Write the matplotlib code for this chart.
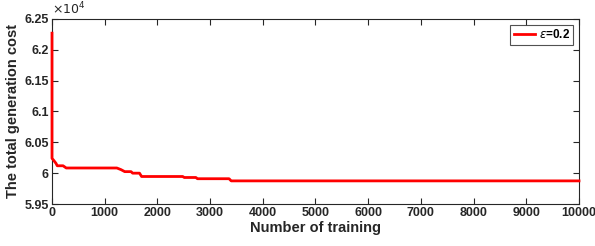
import matplotlib
matplotlib.use('Agg')
import matplotlib.pyplot as plt
from matplotlib.ticker import FuncFormatter, MultipleLocator

# Training curve (cost values in units of 1e4)
iters = [0, 0, 30, 75, 100, 210, 270, 1230, 1310, 1380, 1500, 1530, 1660, 1700,
         2480, 2510, 2730, 2760, 3360, 3400, 10000]
cost = [6.227, 6.024, 6.021, 6.016, 6.012, 6.012, 6.0084, 6.0084, 6.0057, 6.0025,
        6.0025, 6.0, 6.0, 5.9946, 5.9946, 5.993, 5.993, 5.991, 5.991, 5.9875, 5.9875]
cost = [c * 1e4 for c in cost]
series_label = r'$\epsilon$=0.2'

plt.rcParams['font.family'] = ['Liberation Sans', 'DejaVu Sans']

fig = plt.figure(figsize=(5.95, 2.46), dpi=100)
ax = fig.add_axes([0.0874, 0.1707, 0.8857, 0.7521])

ax.plot(iters, cost, color='red', linewidth=2, label=series_label,
        zorder=4, clip_on=False)

ax.set_xlim(0, 10000)
ax.set_ylim(5.95e4, 6.25e4)
ax.xaxis.set_major_locator(MultipleLocator(1000))
ax.yaxis.set_major_locator(MultipleLocator(0.05e4))
ax.yaxis.set_major_formatter(FuncFormatter(lambda v, p: '%g' % round(v / 1e4, 3)))

axis_col = '#262626'
for s in ax.spines.values():
    s.set_color(axis_col)
    s.set_linewidth(0.8)
ax.tick_params(direction='in', top=True, right=True, length=4, width=0.8,
               color=axis_col, labelsize=9, labelcolor=axis_col, pad=2.5)
for lbl in ax.get_xticklabels() + ax.get_yticklabels():
    lbl.set_fontweight('bold')

ax.text(0.0, 1.01, r'$\times10^4$', transform=ax.transAxes, fontsize=9,
        color=axis_col, ha='left', va='bottom')

ax.set_xlabel('Number of training', fontsize=10.5, fontweight='bold', color=axis_col, labelpad=1)
ax.set_ylabel('The total generation cost', fontsize=10.5, fontweight='bold', color=axis_col, labelpad=3)

leg = ax.legend(loc='upper right', fontsize=8.5, frameon=True, fancybox=False,
                edgecolor=axis_col, handlelength=1.8, borderpad=0.3,
                borderaxespad=0.5, handletextpad=0.3, prop={'weight': 'bold', 'size': 8.5})
leg.get_frame().set_linewidth(0.8)
leg.set_zorder(5)

fig.savefig('out.png', dpi=100)
